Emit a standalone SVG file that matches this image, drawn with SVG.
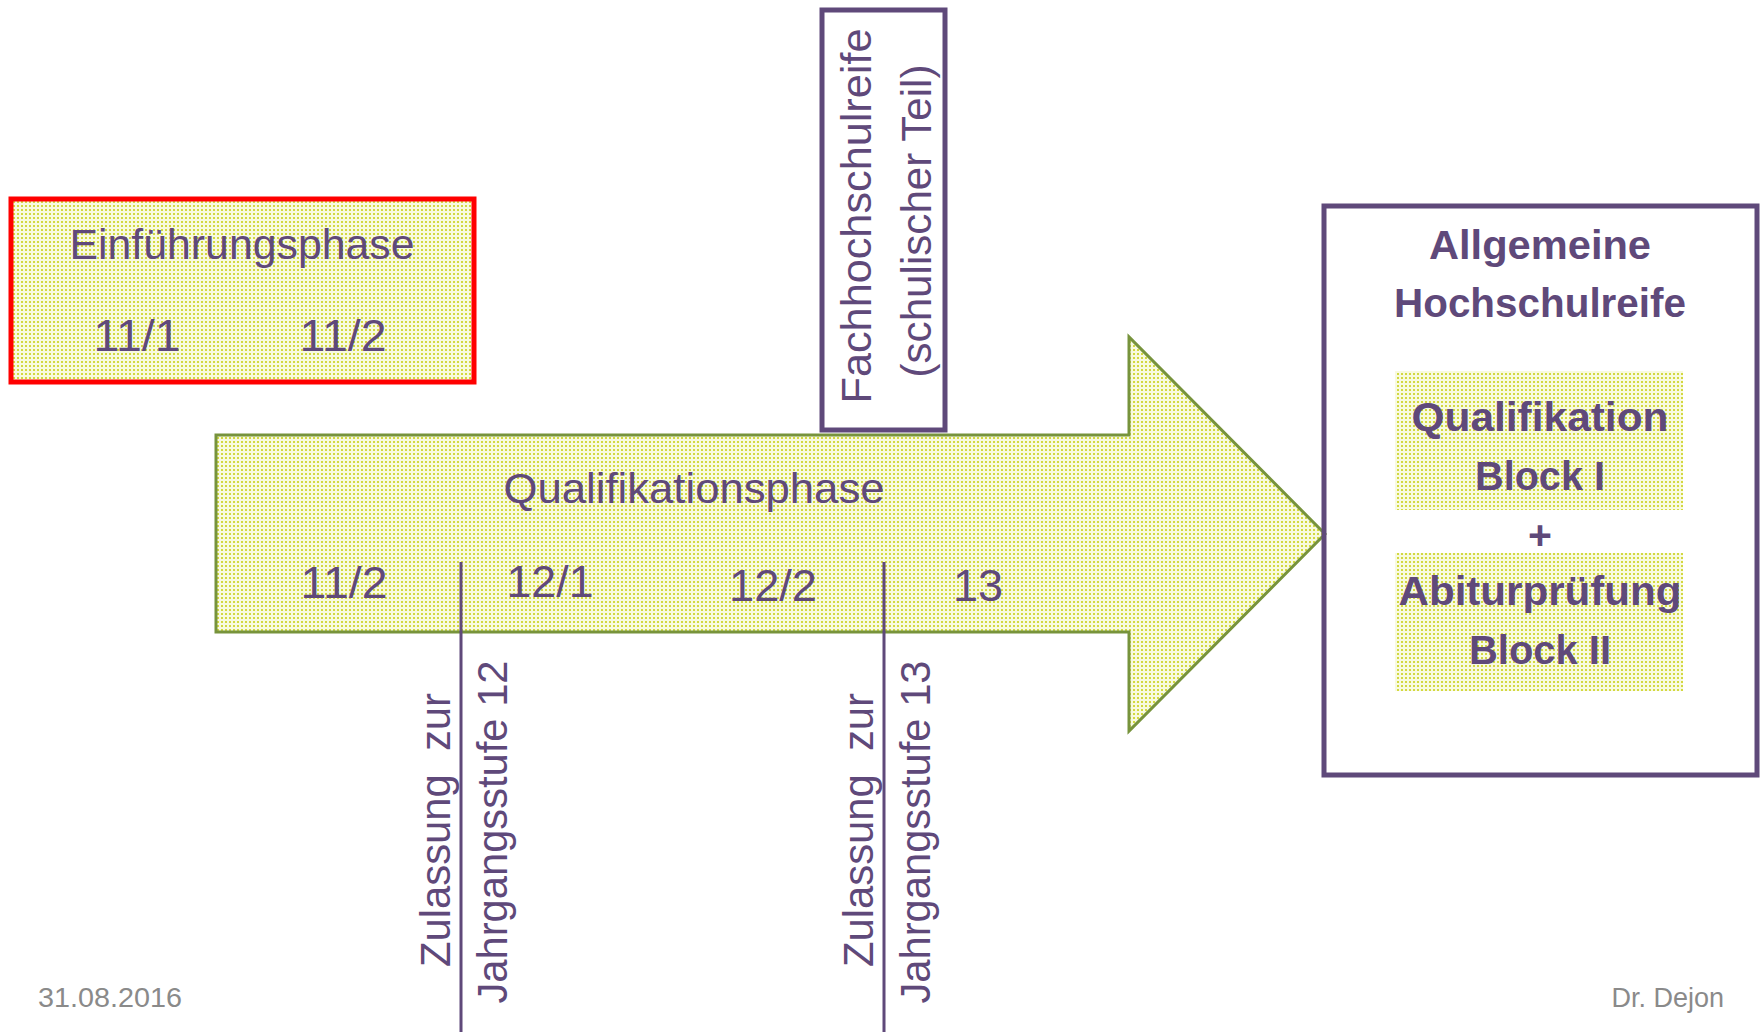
<svg xmlns="http://www.w3.org/2000/svg" width="1763" height="1032" viewBox="0 0 1763 1032">
<defs>
<pattern id="dots" width="4" height="4" patternUnits="userSpaceOnUse">
<rect width="4" height="4" fill="#F8FADF"/>
<rect x="1" y="1" width="2" height="2" fill="#D3D840"/>
</pattern>
<style>
.t{font-family:"Liberation Sans",Arial,sans-serif;fill:#5F497A;font-size:42px}
.n{font-size:45px}
.b{font-family:"Liberation Sans",Arial,sans-serif;fill:#5F497A;font-size:41px;font-weight:bold}
.f{font-family:"Liberation Sans",Arial,sans-serif;fill:#8A8A8A;font-size:27px}
.m{text-anchor:middle}
.box{fill:none;stroke:#5F497A;stroke-width:5}
.ln{stroke:#5F497A;stroke-width:3}
</style>
</defs>
<rect width="1763" height="1032" fill="#FFFFFF"/>

<g id="arrow-qualifikationsphase">
<polygon points="216,435 1129,435 1129,337 1325,534 1129,731 1129,632 216,632" fill="url(#dots)" stroke="#77933C" stroke-width="3"/>
<text class="t m" x="694" y="503" textLength="381" lengthAdjust="spacingAndGlyphs">Qualifikationsphase</text>
<text class="t n m" x="344" y="598" textLength="87" lengthAdjust="spacingAndGlyphs">11/2</text>
<text class="t n m" x="550" y="597" textLength="87" lengthAdjust="spacingAndGlyphs">12/1</text>
<text class="t n m" x="773" y="601" textLength="88" lengthAdjust="spacingAndGlyphs">12/2</text>
<text class="t n m" x="978" y="601">13</text>
</g>

<g id="einfuehrungsphase">
<rect x="11" y="199" width="463" height="183" fill="url(#dots)" stroke="#FF0000" stroke-width="5"/>
<text class="t m" x="242" y="259" textLength="345" lengthAdjust="spacingAndGlyphs">Einführungsphase</text>
<text class="t n m" x="137" y="351" textLength="87" lengthAdjust="spacingAndGlyphs">11/1</text>
<text class="t n m" x="343" y="351" textLength="87" lengthAdjust="spacingAndGlyphs">11/2</text>
</g>

<g id="fachhochschulreife">
<rect class="box" x="822" y="10" width="123" height="420" style="fill:#FFFFFF"/>
<text class="t m" transform="translate(871,216) rotate(-90)" font-size="43" textLength="375" lengthAdjust="spacingAndGlyphs">Fachhochschulreife</text>
<text class="t m" transform="translate(931,221) rotate(-90)" font-size="43" textLength="313" lengthAdjust="spacingAndGlyphs">(schulischer Teil)</text>
</g>

<g id="allgemeine-hochschulreife">
<rect class="box" x="1324" y="206" width="433" height="569"/>
<text class="b m" x="1540" y="259" textLength="222" lengthAdjust="spacingAndGlyphs">Allgemeine</text>
<text class="b m" x="1540" y="317" textLength="292" lengthAdjust="spacingAndGlyphs">Hochschulreife</text>
<rect x="1395" y="371" width="288" height="139" fill="url(#dots)"/>
<rect x="1395" y="553" width="288" height="138" fill="url(#dots)"/>
<text class="b m" x="1540" y="431" textLength="257" lengthAdjust="spacingAndGlyphs">Qualifikation</text>
<text class="b m" x="1540" y="490" textLength="130" lengthAdjust="spacingAndGlyphs">Block I</text>
<text class="b m" x="1540" y="549">+</text>
<text class="b m" x="1540" y="605" textLength="283" lengthAdjust="spacingAndGlyphs">Abiturprüfung</text>
<text class="b m" x="1540" y="664" textLength="142" lengthAdjust="spacingAndGlyphs">Block II</text>
</g>

<g id="connectors">
<line class="ln" x1="461" y1="562" x2="461" y2="1032"/>
<line class="ln" x1="884" y1="562" x2="884" y2="1032"/>
</g>

<g id="zulassung-12">
<text class="t m" transform="translate(450,830) rotate(-90)" xml:space="preserve" textLength="274" lengthAdjust="spacingAndGlyphs">Zulassung  zur</text>
<text class="t m" transform="translate(507,832) rotate(-90)" textLength="343" lengthAdjust="spacingAndGlyphs">Jahrgangsstufe 12</text>
</g>

<g id="zulassung-13">
<text class="t m" transform="translate(873,830) rotate(-90)" xml:space="preserve" textLength="274" lengthAdjust="spacingAndGlyphs">Zulassung  zur</text>
<text class="t m" transform="translate(930,832) rotate(-90)" textLength="343" lengthAdjust="spacingAndGlyphs">Jahrgangsstufe 13</text>
</g>

<g id="footer">
<text class="f" x="38" y="1007" textLength="144" lengthAdjust="spacingAndGlyphs">31.08.2016</text>
<text class="f" x="1724" y="1007" text-anchor="end">Dr. Dejon</text>
</g>
</svg>
